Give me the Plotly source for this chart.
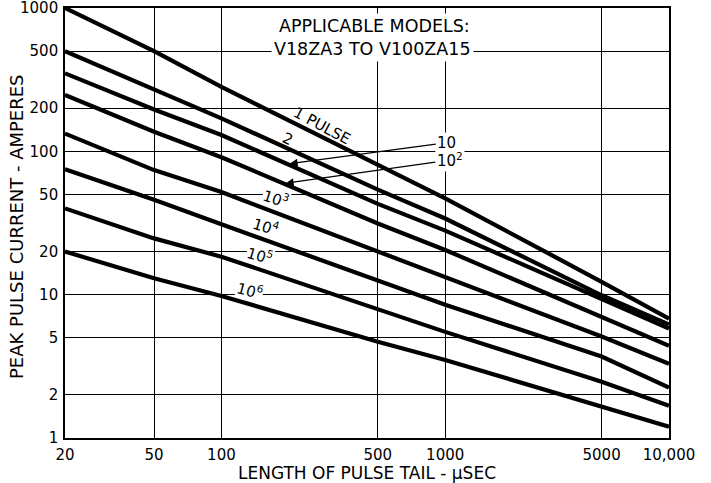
import math
import plotly.graph_objects as go

# ---- data ----
tail_us = [20, 50, 100, 500, 1000, 5000, 10000]

pulses_1 = [1000, 500, 282, 80, 47, 12.3, 6.8]
pulses_2 = [500, 268, 170, 54, 34, 9.9, 6.2]
pulses_1e1 = [350, 196, 130, 43, 28, 9.4, 5.8]
pulses_1e2 = [247, 137, 91, 31.4, 20.5, 7.0, 4.4]
pulses_1e3 = [133, 74, 52, 20, 13.3, 5.1, 3.3]
pulses_1e4 = [75, 46, 31, 12.5, 8.5, 3.7, 2.25]
pulses_1e5 = [40, 24.7, 18.4, 7.9, 5.5, 2.47, 1.68]
pulses_1e6 = [20, 13, 9.8, 4.7, 3.5, 1.65, 1.2]

series_names = ["1 PULSE", "2", "10", "10²", "10³", "10⁴", "10⁵", "10⁶"]
series_values = [pulses_1, pulses_2, pulses_1e1, pulses_1e2,
                 pulses_1e3, pulses_1e4, pulses_1e5, pulses_1e6]

x_ticks = [20, 50, 100, 500, 1000, 5000, 10000]
x_ticktext = ["20", "50", "100", "500", "1000", "5000", "10,000"]
y_ticks = [1, 2, 5, 10, 20, 50, 100, 200, 500, 1000]
y_ticktext = ["1", "2", "5", "10", "20", "50", "100", "200", "500", "1000"]

FONT = "DejaVu Sans"

fig = go.Figure()
for name, vals in zip(series_names, series_values):
    fig.add_trace(go.Scatter(x=tail_us, y=vals, mode="lines", name=name,
                             line=dict(color="black", width=4.2),
                             showlegend=False, hoverinfo="skip"))

# plot area geometry in pixels (for placing labels)
L, R, T, B = 65, 669, 8, 438
W, H = R - L, B - T


def px(xp, yp):
    return dict(x=(xp - L) / W, y=(B - yp) / H, xref="paper", yref="paper",
                xanchor="center", yanchor="middle")


ann = []
ann.append(dict(text="APPLICABLE MODELS:", showarrow=False,
                font=dict(family=FONT, size=17.5, color="black"), bgcolor="white",
                borderpad=2, **px(374, 26)))
ann.append(dict(text="V18ZA3 TO V100ZA15", showarrow=False,
                font=dict(family=FONT, size=17.5, color="black"), bgcolor="white",
                borderpad=2, **px(372, 49)))
# y-axis title
ann.append(dict(text="PEAK PULSE CURRENT - AMPERES", showarrow=False, textangle=-90,
                font=dict(family=FONT, size=18, color="black"), **px(16, 227)))

# (text, x px, y px, angle, white background to break gridlines)
line_labels = [
    ("1 PULSE", 322, 126, 28, False),
    ("2", 288, 139, 25, False),
    ("10<sup>3</sup>", 276, 198, 18, True),
    ("10<sup>4</sup>", 266, 226, 17, True),
    ("10<sup>5</sup>", 260, 255, 16, True),
    ("10<sup>6</sup>", 250, 290, 15, True),
]
for txt, xp_, yp_, ang, bg in line_labels:
    ann.append(dict(text=txt, showarrow=False, textangle=ang,
                    font=dict(family=FONT, size=15, color="black"),
                    bgcolor="white" if bg else "rgba(0,0,0,0)", borderpad=0,
                    **px(xp_, yp_)))

# arrow labels for 10 and 10^2 pulses (arrow tips on the curves)
ann.append(dict(text="10", x=math.log10(202), y=math.log10(82), xref="x", yref="y",
                showarrow=True, arrowhead=2, arrowsize=1.2, arrowwidth=1.3,
                arrowcolor="black", ax=157, ay=-21, bgcolor="white",
                font=dict(family=FONT, size=15, color="black")))
ann.append(dict(text="10<sup>2</sup>", x=math.log10(194), y=math.log10(60), xref="x", yref="y",
                showarrow=True, arrowhead=2, arrowsize=1.2, arrowwidth=1.3,
                arrowcolor="black", ax=164, ay=-23, bgcolor="white",
                font=dict(family=FONT, size=15, color="black")))

fig.update_layout(
    width=711, height=483,
    margin=dict(l=L, r=711 - R, t=T, b=483 - B),
    paper_bgcolor="white", plot_bgcolor="white",
    font=dict(family=FONT, size=15, color="black"),
    annotations=ann,
)
fig.update_xaxes(type="log", range=[math.log10(20), 4], automargin=False,
                 tickvals=x_ticks, ticktext=x_ticktext, ticklabeloverflow="allow",
                 showgrid=True, gridcolor="black", gridwidth=1.2,
                 showline=True, linecolor="black", linewidth=1.6, mirror=True,
                 ticks="", zeroline=False, ticklabelstandoff=2,
                 tickfont=dict(family=FONT, size=15),
                 title=dict(text="LENGTH OF PULSE TAIL - μSEC",
                            font=dict(family=FONT, size=17), standoff=6))
fig.update_yaxes(type="log", range=[0, 3], automargin=False,
                 tickvals=y_ticks, ticktext=y_ticktext, ticklabeloverflow="allow",
                 showgrid=True, gridcolor="black", gridwidth=1.2,
                 showline=True, linecolor="black", linewidth=1.6, mirror=True,
                 ticks="", zeroline=False, ticklabelstandoff=2,
                 tickfont=dict(family=FONT, size=15))

fig.write_html("out.html", config={"displayModeBar": False},
               post_script="document.body.style.margin='0';")
